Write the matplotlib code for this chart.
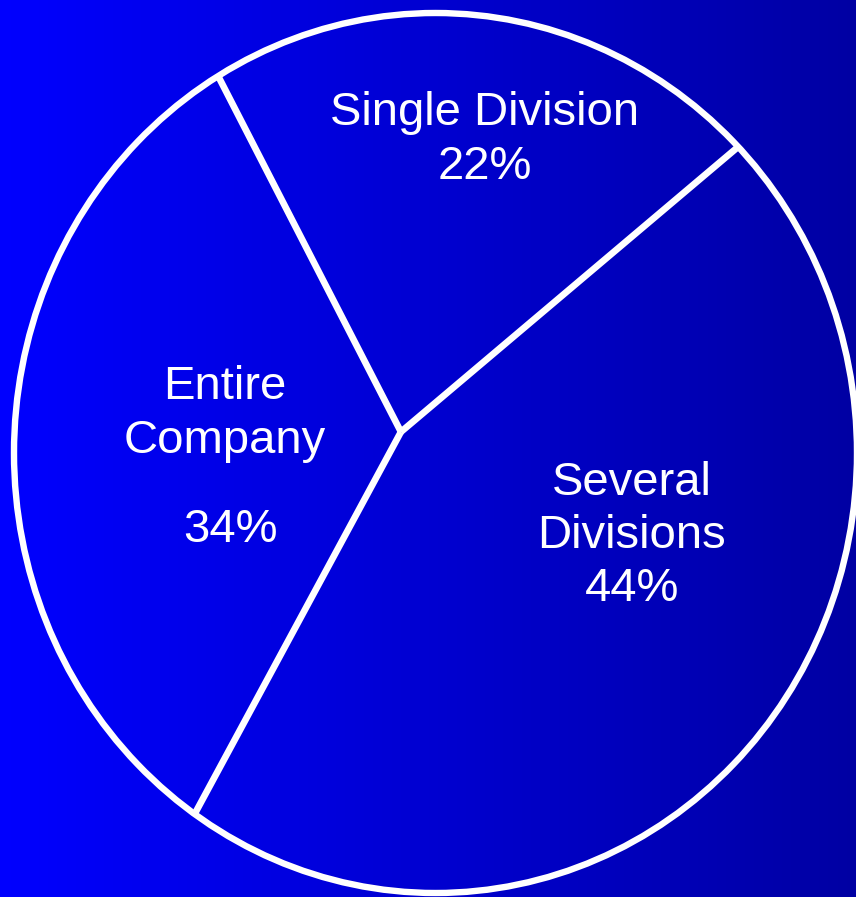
import matplotlib.pyplot as plt
import matplotlib.patches as mpatches
import numpy as np

# Share of respondents by scope of adoption
categories = ['Single Division', 'Entire Company', 'Several Divisions']
shares = [22, 34, 44]

W, H = 856, 897
fig = plt.figure(figsize=(W / 100, H / 100), dpi=100)

# Background: horizontal blue gradient, bright on the left, darker on the right
bg = fig.add_axes([0, 0, 1, 1])
blue = np.linspace(1.0, 0.64, 256)
grad = np.zeros((1, 256, 3))
grad[0, :, 2] = blue
bg.imshow(grad, extent=(0, W, H, 0), aspect='auto', interpolation='bicubic')
bg.set_xlim(0, W)
bg.set_ylim(H, 0)
bg.axis('off')

# Pie axes spans the ellipse bounding box (pixels: x 14..857, y 13..893)
left, right, top, bottom = 14, 857, 13, 893
ax = fig.add_axes([left / W, (H - bottom) / H, (right - left) / W, (bottom - top) / H])
ax.patch.set_alpha(0)

vertex = np.array([-0.082, 0.048])
wedges, _ = ax.pie(shares, startangle=39, counterclock=True, center=tuple(vertex),
                   radius=1.0, wedgeprops=dict(fill=False, linewidth=0))
ax.set_aspect('auto')
ax.set_xlim(-1, 1)
ax.set_ylim(-1, 1)
ax.axis('off')

# Outline of the pie
ax.add_patch(mpatches.Circle((0, 0), 1.0, fill=False, edgecolor='white',
                             linewidth=4.6, clip_on=False))

# Radial separators from the vertex to the outline at each wedge boundary
for w in wedges:
    th = np.deg2rad(w.theta1)
    d = np.array([np.cos(th), np.sin(th)])
    pd = vertex @ d
    t = -pd + np.sqrt(pd ** 2 - (vertex @ vertex - 1))
    end = vertex + t * d
    ax.plot([vertex[0], end[0]], [vertex[1], end[1]], color='white',
            linewidth=4.8, solid_capstyle='butt', clip_on=False)

# Labels
txt = dict(color='white', fontsize=34, family='Liberation Sans',
           ha='center', va='center', linespacing=1.27)
bg.text(485, 140, f'{categories[0]}\n{shares[0]}%', **txt)
bg.text(225, 414, 'Entire\nCompany', **txt)
bg.text(230, 530, f'{shares[1]}%', **txt)
bg.text(632, 536, f'Several\nDivisions\n{shares[2]}%', **txt)

fig.savefig('out.png', dpi=100)
